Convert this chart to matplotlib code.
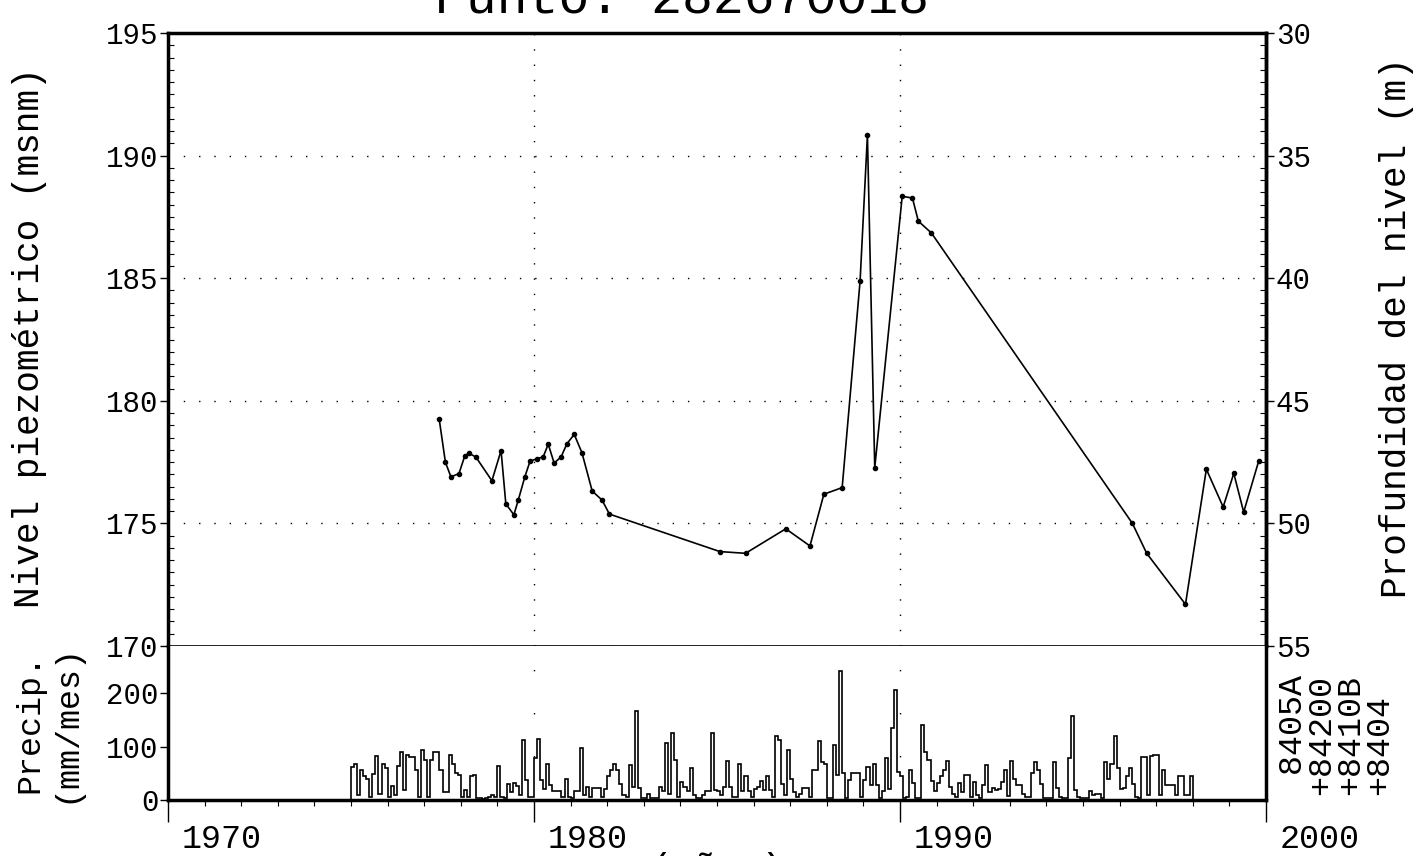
import numpy as np
import matplotlib.pyplot as plt
from matplotlib.ticker import MultipleLocator
import matplotlib.transforms as mtransforms

plt.rcParams['font.family'] = ['Liberation Mono', 'DejaVu Sans Mono']
plt.rcParams['font.size'] = 21

# nivel piezometrico (msnm)
anio = [1977.41, 1977.58, 1977.73, 1977.95, 1978.11, 1978.22, 1978.41, 1978.85,
        1979.10, 1979.23, 1979.45, 1979.57, 1979.75, 1979.89, 1980.08, 1980.25,
        1980.39, 1980.55, 1980.74, 1980.90, 1981.10, 1981.31, 1981.59, 1981.86,
        1982.06, 1985.08, 1985.78, 1986.88, 1987.54, 1987.92, 1988.42, 1988.91,
        1989.11, 1989.31, 1990.06, 1990.34, 1990.50, 1990.86, 1996.35, 1996.74,
        1997.80, 1998.37, 1998.83, 1999.12, 1999.39, 1999.80]
nivel = [179.25, 177.49, 176.90, 177.03, 177.76, 177.86, 177.71, 176.74,
         177.97, 175.80, 175.35, 175.95, 176.90, 177.53, 177.64, 177.71,
         178.23, 177.46, 177.71, 178.25, 178.63, 177.88, 176.32, 175.95,
         175.38, 173.85, 173.78, 174.78, 174.08, 176.19, 176.46, 184.89,
         190.84, 177.27, 188.34, 188.27, 187.33, 186.84, 175.00, 173.78,
         171.70, 177.21, 175.67, 177.04, 175.46, 177.54]

# precipitacion mensual (mm/mes), enero 1975 - diciembre 1997
precip_inicio = 1975
precip = [
    61, 68, 9, 57, 45, 40, 5, 48, 82, 12, 67, 60,        # 1975
    5, 27, 10, 64, 90, 19, 85, 81, 80, 56, 5, 93,        # 1976
    75, 5, 75, 90, 89, 56, 15, 15, 85, 68, 50, 47,       # 1977
    5, 19, 5, 44, 47, 3, 3, 2, 3, 5, 9, 5,               # 1978
    64, 5, 3, 30, 15, 31, 26, 10, 112, 37, 5, 5,         # 1979
    78, 114, 37, 20, 67, 28, 16, 17, 17, 5, 40, 5,       # 1980
    3, 16, 16, 98, 10, 25, 5, 23, 23, 23, 5, 20,         # 1981
    45, 56, 67, 56, 30, 10, 5, 65, 25, 167, 22, 3,       # 1982
    3, 12, 3, 3, 3, 24, 16, 106, 12, 126, 75, 5,         # 1983
    34, 25, 16, 59, 10, 3, 3, 9, 16, 16, 126, 19,        # 1984
    16, 10, 25, 73, 25, 5, 5, 67, 16, 44, 16, 5,         # 1985
    20, 25, 36, 18, 44, 18, 5, 120, 112, 30, 10, 93,     # 1986
    40, 15, 5, 12, 22, 22, 5, 56, 56, 111, 72, 68,       # 1987
    3, 3, 103, 47, 242, 50, 3, 37, 50, 50, 50, 5,        # 1988
    37, 62, 28, 68, 28, 3, 16, 78, 20, 134, 206, 53,     # 1989
    44, 3, 5, 56, 31, 3, 3, 140, 90, 75, 35, 16,         # 1990
    31, 44, 56, 73, 25, 12, 5, 32, 15, 47, 47, 5,        # 1991
    34, 10, 3, 28, 65, 15, 22, 18, 20, 34, 56, 8,        # 1992
    73, 40, 28, 28, 12, 5, 5, 50, 72, 56, 30, 3,         # 1993
    3, 3, 72, 22, 5, 3, 3, 78, 158, 19, 5, 3,            # 1994
    3, 3, 17, 10, 12, 12, 3, 72, 40, 68, 120, 59,        # 1995
    20, 22, 44, 60, 30, 5, 3, 81, 81, 10, 83, 84,        # 1996
    84, 9, 56, 28, 28, 28, 9, 45, 45, 9, 9, 45,          # 1997
]
estaciones = [' 8405A', '+84200', '+8410B', '+8404']

W, H = 1421, 856
fig = plt.figure(figsize=(W / 100, H / 100), dpi=100)
ax = fig.add_axes([168 / W, 1 - 646 / H, 1098 / W, 613 / H])
ax2 = fig.add_axes([168 / W, 1 - 800 / H, 1098 / W, 154 / H], sharex=ax)

dots = (0, (1, 10))

# panel superior
ax.plot(anio, nivel, color='black', lw=1.2, marker='o', ms=3.0)
ax.set_xlim(1970, 2000)
ax.set_ylim(170, 195)
ax.set_yticks([170, 175, 180, 185, 190, 195])
ax.yaxis.set_minor_locator(MultipleLocator(0.5))
ax.tick_params(axis='y', which='major', direction='out', length=6, width=1, pad=1)
ax.tick_params(axis='y', which='minor', direction='in', length=4, width=0.8)
ax.tick_params(axis='x', which='both', bottom=False, top=False, labelbottom=False)
ax.grid(True, which='major', color='black', lw=1, ls=dots)
for s in ['top', 'left', 'right']:
    ax.spines[s].set_linewidth(2.5)
ax.spines['bottom'].set_linewidth(1.2)

sec = ax.secondary_yaxis('right', functions=(lambda v: 225 - v, lambda d: 225 - d))
sec.set_yticks([30, 35, 40, 45, 50, 55])
sec.yaxis.set_minor_locator(MultipleLocator(0.5))
sec.tick_params(axis='y', which='major', direction='out', length=6, width=1, pad=1)
sec.tick_params(axis='y', which='minor', direction='in', length=4, width=0.8)
sec.spines['right'].set_linewidth(2.5)

# panel inferior
edges = precip_inicio + np.arange(len(precip) + 1) / 12
ax2.stairs(precip, edges, baseline=0, fill=False, color='black', lw=1.2)
ax2.set_ylim(0, 288)
ax2.set_yticks([0, 100, 200])
ax2.set_xticks([1970, 1980, 1990, 2000])
ax2.xaxis.set_minor_locator(MultipleLocator(1))
ax2.tick_params(axis='y', which='major', direction='out', length=6, width=1, pad=1)
ax2.tick_params(axis='x', which='major', direction='out', length=16, width=1, pad=1,
                labelsize=24)
ax2.tick_params(axis='x', which='minor', direction='out', length=4, width=0.8)
ax2.grid(True, axis='x', which='major', color='black', lw=1, ls=(0, (1, 30)))
ax2.spines['top'].set_visible(False)
for s in ['bottom', 'left', 'right']:
    ax2.spines[s].set_linewidth(2.5)

shift = mtransforms.ScaledTranslation(0.14, 0, fig.dpi_scale_trans)
for lab in ax2.get_xticklabels():
    lab.set_horizontalalignment('left')
    lab.set_transform(lab.get_transform() + shift)

# textos
fig.text(0.48, 1 - 13 / H, 'Punto: 282670018', ha='center', va='baseline', fontsize=37)
fig.text(30 / W, 1 - 338 / H, 'Nivel piezométrico (msnm)', rotation=90,
         ha='center', va='center', fontsize=26)
fig.text(1397 / W, 1 - 328 / H, 'Profundidad del nivel (m)', rotation=90,
         ha='center', va='center', fontsize=26)
fig.text(48 / W, 1 - 723 / H, 'Precip.\n(mm/mes)', rotation=90, ha='center',
         va='center', multialignment='center', fontsize=24, linespacing=1.2)
fig.text(1278 / W, 1 - 795 / H, '\n'.join(estaciones), rotation=90, ha='left',
         va='bottom', multialignment='left', fontsize=24, linespacing=0.9)
fig.text(717 / W, 1 - 852 / H, '(años)', ha='center', va='top', fontsize=27)

plt.savefig('out.png', dpi=100)
